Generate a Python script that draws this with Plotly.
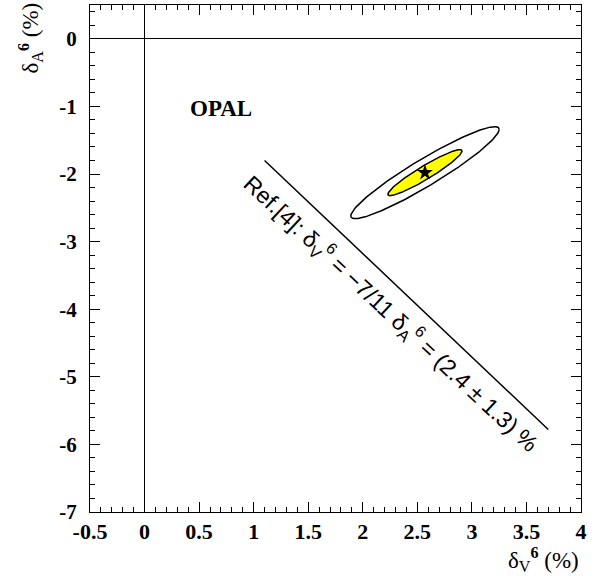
import numpy as np
import plotly.graph_objects as go

# ---- data ----
x_tick_vals = [-0.5, 0, 0.5, 1, 1.5, 2, 2.5, 3, 3.5, 4]
x_tick_text = ["-0.5", "0", "0.5", "1", "1.5", "2", "2.5", "3", "3.5", "4"]
y_tick_vals = [0, -1, -2, -3, -4, -5, -6, -7]
y_tick_text = ["0", "-1", "-2", "-3", "-4", "-5", "-6", "-7"]

ref_line_v = [1.1, 3.7]
ref_line_a = [-1.8, -5.78]

fit_v = 2.57
fit_a = -1.98
sigma_v = 0.34
sigma_a = 0.34
rho = 0.94
contour_levels = [2.0, 1.0]   # outer, inner (in units of sigma)

ref_label_pos = (2.26, -4.06)
opal_label_pos = (0.70, -1.03)

# ---- contours ----
cov = np.array([[sigma_v**2, rho*sigma_v*sigma_a],
                [rho*sigma_v*sigma_a, sigma_a**2]])
L = np.linalg.cholesky(cov)
t = np.linspace(0, 2*np.pi, 241)
circle = np.vstack([np.cos(t), np.sin(t)])

fig = go.Figure()

for lev in contour_levels:
    pts = L @ (lev * circle)
    inner = lev == min(contour_levels)
    fig.add_trace(go.Scatter(
        x=fit_v + pts[0], y=fit_a + pts[1], mode="lines",
        line=dict(color="black", width=1.5),
        fill="toself" if inner else None,
        fillcolor="#ffff00" if inner else None,
        hoverinfo="skip", showlegend=False))

fig.add_trace(go.Scatter(x=[fit_v], y=[fit_a], mode="markers",
                         marker=dict(symbol="star", size=12, color="black"),
                         showlegend=False))

fig.add_trace(go.Scatter(x=ref_line_v, y=ref_line_a, mode="lines",
                         line=dict(color="black", width=1.5), showlegend=False))

fig.add_annotation(x=ref_label_pos[0], y=ref_label_pos[1], xref="x", yref="y",
                   text="Ref.[4]: δ<sub>V</sub><sup>6</sup> = −7/11 δ<sub>A</sub><sup>6</sup> = (2.4 ± 1.3) %",
                   textangle=43, showarrow=False,
                   font=dict(family="Liberation Sans, Arial", size=23, color="black"))

fig.add_annotation(x=opal_label_pos[0], y=opal_label_pos[1], xref="x", yref="y",
                   text="<b>OPAL</b>", showarrow=False,
                   font=dict(family="Liberation Serif, Times New Roman", size=23, color="black"))

# axis titles
fig.add_annotation(x=1.0, y=-0.06, xref="paper", yref="paper",
                   xanchor="right", yanchor="top",
                   text="δ<sub>V</sub><sup><b>6</b></sup> (%)", showarrow=False,
                   font=dict(family="Liberation Serif, Times New Roman", size=23, color="black"))
fig.add_annotation(x=-0.121, y=0.935, xref="paper", yref="paper",
                   xanchor="center", yanchor="middle", textangle=-90,
                   text="δ<sub>A</sub><sup><b>6</b></sup> (%)", showarrow=False,
                   font=dict(family="Liberation Serif, Times New Roman", size=23, color="black"))

axis_common = dict(showline=True, linecolor="black", linewidth=1, mirror="ticks",
                   ticks="inside", tickcolor="black", tickwidth=1, ticklen=10,
                   showgrid=False, zeroline=True, zerolinecolor="black", zerolinewidth=1)

fig.update_xaxes(range=[-0.5, 4], tickvals=x_tick_vals,
                 ticktext=["<b>%s</b>" % s for s in x_tick_text],
                 tickfont=dict(family="Liberation Serif, Times New Roman", size=22,
                               color="black"),
                 minor=dict(dtick=0.1, tick0=0, ticks="inside", ticklen=5,
                            tickcolor="black", showgrid=False),
                 **axis_common)
fig.update_yaxes(range=[-7, 0.5], tickvals=y_tick_vals,
                 ticktext=["<b>%s</b>" % s for s in y_tick_text],
                 tickfont=dict(family="Liberation Serif, Times New Roman", size=21,
                               color="black"),
                 minor=dict(dtick=0.2, tick0=0, ticks="inside", ticklen=5,
                            tickcolor="black", showgrid=False),
                 ticklabelstandoff=8,
                 **axis_common)

fig.update_layout(width=602, height=576,
                  margin=dict(l=90, r=21, t=5, b=64),
                  plot_bgcolor="white", paper_bgcolor="white",
                  showlegend=False)

fig.write_html("out.html", config={"displayModeBar": False},
               post_script="document.body.style.margin='0';document.body.style.padding='0';")
